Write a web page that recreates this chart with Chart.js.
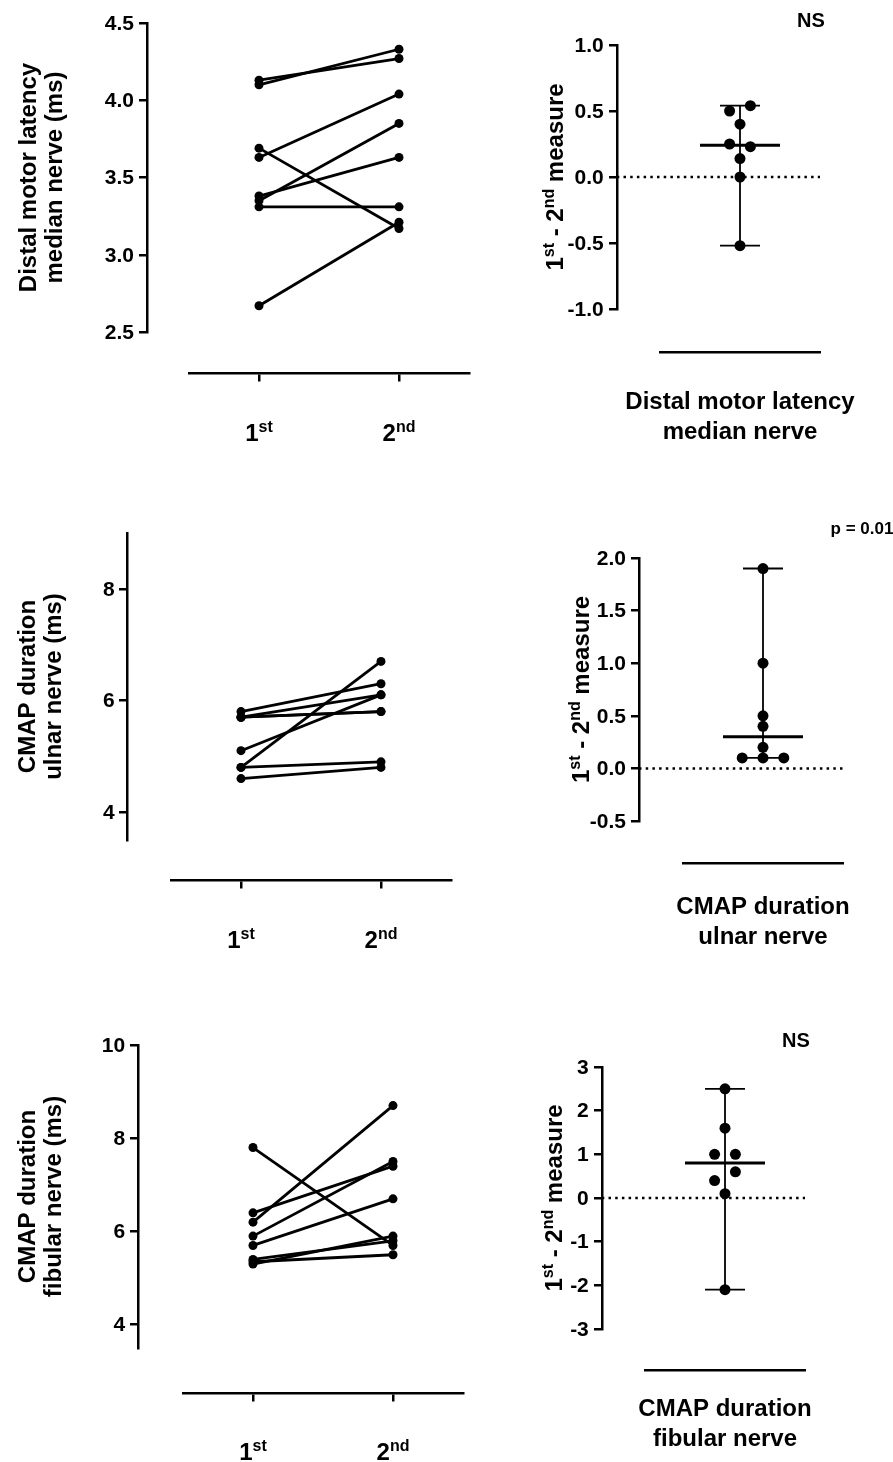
<!DOCTYPE html>
<html>
<head>
<meta charset="utf-8">
<script src="https://cdn.jsdelivr.net/npm/chart.js@4.4.1/dist/chart.umd.min.js"></script>
<style>
  html, body { margin: 0; padding: 0; background: #fff; }
  #page { position: relative; width: 893px; height: 1462px; }
  #page canvas { position: absolute; left: 0; top: 0; }
</style>
</head>
<body>
<div id="page"></div>
<script>
// ── Data ─────────────────────────────────────────────────────────
const PAIR_X = [1, 2];                      // 1st / 2nd measure
const PAIR_LABELS = ["1^{st}", "2^{nd}"];

// distal motor latency, median nerve (ms)
const DML_FIRST  = [4.10, 4.13, 3.69, 3.63, 3.38, 3.35, 3.31, 2.67];
const DML_SECOND = [4.33, 4.27, 3.17, 4.04, 3.63, 3.85, 3.31, 3.21];
const DML_DIFF   = [0.54, 0.50, 0.40, 0.25, 0.23, 0.14, 0.00, -0.52];
const DML_LANE   = [1, -1, 0, -1, 1, 0, 0, 0];
const DML_TICKS  = [2.5, 3.0, 3.5, 4.0, 4.5];
const DML_DTICKS = [-1.0, -0.5, 0.0, 0.5, 1.0];

// CMAP duration, ulnar nerve (ms)
const ULN_FIRST  = [5.8, 5.7, 5.7, 5.7, 5.1, 4.8, 4.8, 4.6];
const ULN_SECOND = [6.3, 6.1, 5.8, 5.8, 6.1, 6.7, 4.9, 4.8];
const ULN_DIFF   = [1.9, 1.0, 0.5, 0.4, 0.2, 0.1, 0.1, 0.1];
const ULN_LANE   = [0, 0, 0, 0, 0, -1, 0, 1];
const ULN_TICKS  = [4, 6, 8];
const ULN_DTICKS = [-0.5, 0.0, 0.5, 1.0, 1.5, 2.0];

// CMAP duration, fibular nerve (ms)
const FIB_FIRST  = [7.8, 6.2, 6.4, 5.9, 5.7, 5.3, 5.4, 5.35];
const FIB_SECOND = [5.7, 8.7, 7.4, 7.5, 6.7, 5.9, 5.8, 5.5];
const FIB_DIFF   = [2.5, 1.6, 1.0, 1.0, 0.6, 0.4, 0.1, -2.1];
const FIB_LANE   = [0, 0, -1, 1, 1, -1, 0, 0];
const FIB_TICKS  = [4, 6, 8, 10];
const FIB_DTICKS = [-3, -2, -1, 0, 1, 2, 3];

// ── Helpers ─────────────────────────────────────────────────────
const PAGE_W = 893, PAGE_H = 1462;
const FONT = "'Liberation Sans', Arial, Helvetica, sans-serif";
const TICK_LEN = 7;

// text with ^{sup} parts, centred on (0,0)
function drawRich(ctx, str, size) {
    const parts = str.split(/\^\{(.*?)\}/);
    const supSize = Math.round(size * 0.66);
    const fontFor = i => `bold ${i % 2 ? supSize : size}px ${FONT}`;
    let total = 0;
    parts.forEach((p, i) => { ctx.font = fontFor(i); total += ctx.measureText(p).width; });
    let x = -total / 2;
    const base = size * 0.36;
    ctx.fillStyle = "#000";
    ctx.textAlign = "left";
    ctx.textBaseline = "alphabetic";
    parts.forEach((p, i) => {
        ctx.font = fontFor(i);
        ctx.fillText(p, x, i % 2 ? base - size * 0.38 : base);
        x += ctx.measureText(p).width;
    });
}

function drawLines(ctx, lines, x, y, size, gap, rotate) {
    ctx.save();
    ctx.translate(x, y);
    if (rotate) ctx.rotate(-Math.PI / 2);
    lines.forEach((l, i) => {
        ctx.save();
        ctx.translate(0, (i - (lines.length - 1) / 2) * gap);
        drawRich(ctx, l, size);
        ctx.restore();
    });
    ctx.restore();
}

// titles, superscript tick labels and the y tick labels of the offset axes
const panelText = {
    id: "panelText",
    afterDraw(chart, args, o) {
        const ctx = chart.ctx;
        const { x, y } = chart.scales;
        const area = chart.chartArea;
        const axisY = y.getPixelForValue(o.xAxisAt);
        const axisX = x.getPixelForValue(o.yAxisAt);

        ctx.save();
        ctx.font = `bold 21px ${FONT}`;
        ctx.fillStyle = "#000";
        ctx.textAlign = "right";
        ctx.textBaseline = "middle";
        y.ticks.forEach(t => ctx.fillText(o.yFmt(t.value), axisX - TICK_LEN - 6, y.getPixelForValue(t.value) + 1));
        ctx.restore();

        if (o.yTitle) drawLines(ctx, o.yTitle, o.yTitleX, (area.top + area.bottom) / 2, 24, 26, true);
        if (o.xLabels) o.xLabels.forEach((l, i) =>
            drawLines(ctx, [l], x.getPixelForValue(PAIR_X[i]), axisY + o.xLabelDy, 24, 0, false));
        if (o.xTitle) drawLines(ctx, o.xTitle, (area.left + area.right) / 2, axisY + o.xTitleDy, 24, 30, false);
        if (o.note) drawLines(ctx, [o.note.text], o.note.x, o.note.y, o.note.size, 0, false);
    }
};

function median(arr) {
    const s = [...arr].sort((a, b) => a - b);
    const m = Math.floor(s.length / 2);
    return s.length % 2 ? s[m] : (s[m - 1] + s[m]) / 2;
}

function newCanvas() {
    const c = document.createElement("canvas");
    c.width = PAGE_W; c.height = PAGE_H;
    c.style.width = PAGE_W + "px"; c.style.height = PAGE_H + "px";
    document.getElementById("page").appendChild(c);
    return c;
}

function axis(opts) {
    return Object.assign({
        type: "linear",
        grid: { drawOnChartArea: false, drawTicks: true, tickLength: TICK_LEN, color: "#000", lineWidth: 2.5 },
        border: { display: true, color: "#000", width: 2.5 },
        ticks: { display: false }
    }, opts);
}

function baseOptions(area, scales, text) {
    return {
        responsive: false, animation: false, events: [], devicePixelRatio: 1,
        layout: { padding: { left: area[0], top: area[1], right: PAGE_W - area[2], bottom: PAGE_H - area[3] } },
        plugins: { legend: { display: false }, tooltip: { enabled: false }, panelText: text },
        scales
    };
}

// ── Paired before/after panel ───────────────────────────────────
function pairedChart(first, second, ticks, yRange, area, yAxisAt, xAxisAt, text) {
    new Chart(newCanvas(), {
        type: "scatter",
        data: {
            datasets: first.map((a, i) => ({
                data: [{ x: PAIR_X[0], y: a }, { x: PAIR_X[1], y: second[i] }],
                showLine: true, borderColor: "#000", borderWidth: 2.8,
                pointRadius: 4.5, pointBackgroundColor: "#000", pointBorderWidth: 0
            }))
        },
        options: baseOptions(area, {
            x: axis({
                min: 0.5, max: 2.5, position: { y: xAxisAt },
                afterBuildTicks: s => { s.ticks = PAIR_X.map(v => ({ value: v })); }
            }),
            y: axis({
                min: yRange[0], max: yRange[1], position: { x: yAxisAt },
                afterBuildTicks: s => { s.ticks = ticks.map(v => ({ value: v })); }
            })
        }, Object.assign({ xAxisAt, yAxisAt, yFmt: v => String(v), xLabels: PAIR_LABELS, xLabelDy: 59 }, text)),
        plugins: [panelText]
    });
}

// ── Difference panel: points, median and range ──────────────────
function diffChart(diff, lane, spread, ticks, fmt, yRange, area, yAxisAt, xAxisAt, text) {
    const med = median(diff), lo = Math.min(...diff), hi = Math.max(...diff);
    const seg = (pts, w, extra) => Object.assign({
        data: pts, showLine: true, borderColor: "#000", borderWidth: w, pointRadius: 0
    }, extra);
    new Chart(newCanvas(), {
        type: "scatter",
        data: {
            datasets: [
                { data: diff.map((v, i) => ({ x: 1 + lane[i] * spread, y: v })),
                  pointRadius: 5.5, pointBackgroundColor: "#000", pointBorderWidth: 0 },
                seg([{ x: 0.5, y: med }, { x: 1.5, y: med }], 3),
                seg([{ x: 1, y: lo }, { x: 1, y: hi }], 1.8),
                seg([{ x: 0.75, y: hi }, { x: 1.25, y: hi }], 1.8),
                seg([{ x: 0.75, y: lo }, { x: 1.25, y: lo }], 1.8),
                seg([{ x: yAxisAt, y: 0 }, { x: 2, y: 0 }], 2.5, { borderDash: [2.5, 4.2], clip: false })
            ]
        },
        options: baseOptions(area, {
            x: axis({
                min: 0, max: 2, position: { y: xAxisAt },
                grid: { drawOnChartArea: false, drawTicks: false },
                afterBuildTicks: s => { s.ticks = [{ value: 1 }]; }
            }),
            y: axis({
                min: yRange[0], max: yRange[1], position: { x: yAxisAt },
                afterBuildTicks: s => { s.ticks = ticks.map(v => ({ value: v })); }
            })
        }, Object.assign({ xAxisAt, yAxisAt, yFmt: fmt }, text)),
        plugins: [panelText]
    });
}

const oneDec = v => v.toFixed(1);
const whole  = v => String(v);
const DIFF_TITLE = ["1^{st} - 2^{nd} measure"];

// Row 1 – distal motor latency
pairedChart(DML_FIRST, DML_SECOND, DML_TICKS, [2.5, 4.5], [189, 23, 469, 332], 0.2, 2.23,
    { yTitle: ["Distal motor latency", "median nerve (ms)"], yTitleX: 40, yFmt: oneDec });
diffChart(DML_DIFF, DML_LANE, 0.13, DML_DTICKS, oneDec, [-1, 1], [660, 45, 820, 309], -0.54, -1.33,
    { yTitle: DIFF_TITLE, yTitleX: 554, xTitle: ["Distal motor latency", "median nerve"], xTitleDy: 63,
      note: { text: "NS", x: 811, y: 20, size: 20 } });

// Row 2 – CMAP duration ulnar nerve
pairedChart(ULN_FIRST, ULN_SECOND, ULN_TICKS, [3.5, 9], [171, 533, 451, 840], 0.19, 2.78,
    { yTitle: ["CMAP duration", "ulnar nerve (ms)"], yTitleX: 39 });
diffChart(ULN_DIFF, ULN_LANE, 0.26, ULN_DTICKS, oneDec, [-0.5, 2], [683, 558, 843, 821], -0.55, -0.9,
    { yTitle: DIFF_TITLE, yTitleX: 580, xTitle: ["CMAP duration", "ulnar nerve"], xTitleDy: 57,
      note: { text: "p = 0.01", x: 862, y: 528, size: 17 } });

// Row 3 – CMAP duration fibular nerve
pairedChart(FIB_FIRST, FIB_SECOND, FIB_TICKS, [3.5, 10], [183, 1045, 463, 1348], 0.18, 2.54,
    { yTitle: ["CMAP duration", "fibular nerve (ms)"], yTitleX: 39 });
diffChart(FIB_DIFF, FIB_LANE, 0.13, FIB_DTICKS, whole, [-3, 3], [645, 1067, 805, 1329], -0.54, -3.94,
    { yTitle: DIFF_TITLE, yTitleX: 553, xTitle: ["CMAP duration", "fibular nerve"], xTitleDy: 52,
      note: { text: "NS", x: 796, y: 1040, size: 20 } });
</script>
</body>
</html>
